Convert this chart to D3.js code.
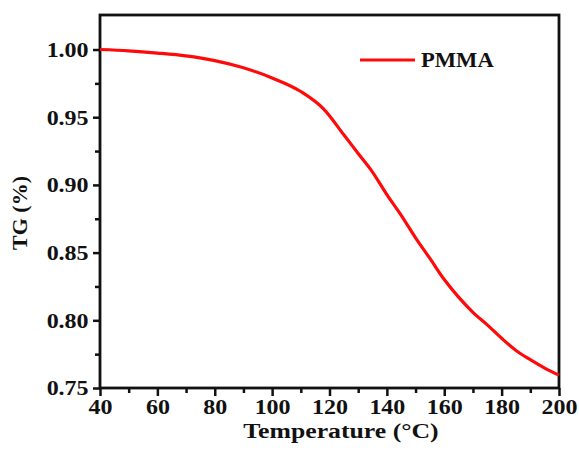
<!DOCTYPE html>
<html><head><meta charset="utf-8">
<script src="https://cdn.jsdelivr.net/npm/d3@7"></script>
<style>body{margin:0;background:#fff}svg text{font-family:"Liberation Serif","Times New Roman",serif;font-weight:bold;fill:#111}</style>
</head><body>
<script>
const temperature = [40,50,60,70,80,90,100,110,118,125,130,135,140,145,150,155,160,165,170,175,180,185,190,195,200];
const tgPMMA = [1.000,0.9990,0.9974,0.9953,0.9918,0.9865,0.9790,0.9690,0.9560,0.9370,0.9232,0.9095,0.8928,0.8775,0.8609,0.8457,0.8301,0.8171,0.8059,0.7966,0.7867,0.7777,0.7709,0.7647,0.7595];
const xTicks = [40,60,80,100,120,140,160,180,200];
const yTicks = [0.75,0.80,0.85,0.90,0.95,1.00];
const seriesName = "PMMA";

const W=579,H=450;
const m={l:100,r:20,t:15,b:62};
const svg=d3.select("body").append("svg").attr("width",W).attr("height",H);
const x=d3.scaleLinear().domain([40,200]).range([m.l,W-m.r]);
const y=d3.scaleLinear().domain([0.75,1.0255]).range([H-m.b,m.t]);

const xMinor=d3.range(50,200,20), yMinor=d3.range(0.775,1.02,0.05);
// minor ticks
svg.append("g").attr("transform",`translate(0,${H-m.b})`)
 .call(d3.axisBottom(x).tickValues(xMinor).tickSize(5).tickFormat(""))
 .call(g=>g.select(".domain").remove()).selectAll("line").attr("stroke-width",2.5).attr("stroke","#111");
svg.append("g").attr("transform",`translate(${m.l},0)`)
 .call(d3.axisLeft(y).tickValues(yMinor).tickSize(5).tickFormat(""))
 .call(g=>g.select(".domain").remove()).selectAll("line").attr("stroke-width",2.5).attr("stroke","#111");

const gx=svg.append("g").attr("transform",`translate(0,${H-m.b})`)
 .call(d3.axisBottom(x).tickValues(xTicks).tickSize(8).tickPadding(4).tickSizeOuter(0).tickFormat(d3.format("d")));
const gy=svg.append("g").attr("transform",`translate(${m.l},0)`)
 .call(d3.axisLeft(y).tickValues(yTicks).tickSize(7).tickPadding(4).tickSizeOuter(0).tickFormat(d3.format(".2f")));
[gx,gy].forEach(g=>{g.select(".domain").remove();g.selectAll("line").attr("stroke-width",2.5).attr("stroke","#111");
 g.selectAll("text").attr("font-size",20).style("font-family",'"Liberation Serif",serif').attr("fill","#111");});
gx.selectAll("text").attr("transform","scale(1.2,1)");
gy.selectAll("text").attr("transform","scale(1.2,1)").attr("x",-9.5).attr("dy","0.34em");

// frame
svg.append("rect").attr("x",m.l).attr("y",m.t).attr("width",W-m.r-m.l).attr("height",H-m.b-m.t)
 .attr("fill","none").attr("stroke","#111").attr("stroke-width",2.8);

const line=d3.line().x((d,i)=>x(temperature[i])).y(d=>y(d)).curve(d3.curveMonotoneX);
svg.append("path").datum(tgPMMA).attr("d",line).attr("fill","none").attr("stroke","#ff0a0a").attr("stroke-width",3.2);

// legend
svg.append("line").attr("x1",360).attr("x2",415).attr("y1",60).attr("y2",60).attr("stroke","#ff0a0a").attr("stroke-width",3.2);
svg.append("text").attr("x",421).attr("y",67).attr("font-size",20).attr("transform","translate(421,0) scale(1.13,1) translate(-421,0)").text(seriesName);

// axis titles
svg.append("text").attr("x",341).attr("y",438).attr("text-anchor","middle").attr("font-size",22)
 .attr("transform","translate(341,0) scale(1.17,1) translate(-341,0)").text("Temperature (°C)");
svg.append("text").attr("transform","translate(27,213) rotate(-90)").attr("text-anchor","middle").attr("font-size",22).text("TG (%)");
</script>
</body></html>
